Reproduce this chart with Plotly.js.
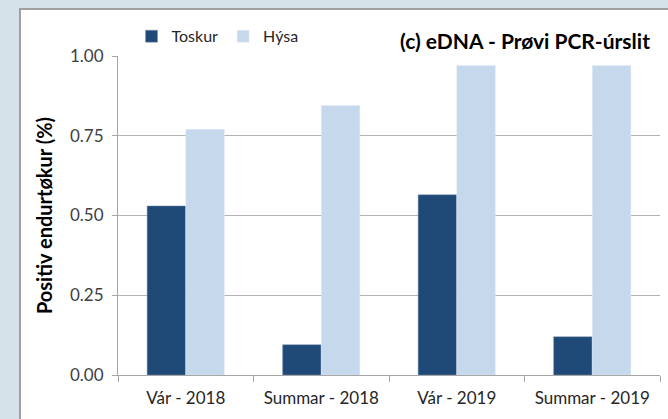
<!DOCTYPE html>
<html>
<head>
<meta charset="utf-8">
<script src="https://cdn.plot.ly/plotly-3.0.1.min.js"></script>
<style>html,body{margin:0;padding:0;background:#d4e1e9;}#chart{width:668px;height:419px;}</style>
</head>
<body>
<div id="chart"></div>
<script>
const categories = ["Vár - 2018", "Summar - 2018", "Vár - 2019", "Summar - 2019"];
const toskur = [0.53, 0.095, 0.565, 0.12];
const hysa = [0.77, 0.845, 0.97, 0.97];
const yTicks = [0, 0.25, 0.5, 0.75, 1.0];
const yTickLabels = ["0.00", "0.25", "0.50", "0.75", "1.00"];

const FONT = "Lato, 'Open Sans', sans-serif";
const traces = [
  {type: "bar", name: "Toskur", x: categories, y: toskur,
   marker: {color: "#1f4a78", line: {color: "#7f97b3", width: 0.5}}},
  {type: "bar", name: "Hýsa", x: categories, y: hysa,
   marker: {color: "#c6d8ec", line: {color: "#e4edf7", width: 0.5}}}
];

const layout = {
  width: 668, height: 419,
  margin: {l: 118, r: 8, t: 56, b: 44},
  paper_bgcolor: "#d4e1e9",
  plot_bgcolor: "#ffffff",
  font: {family: FONT, size: 16, color: "#404040"},
  barmode: "group",
  bargap: 0.43,
  bargroupgap: 0,
  showlegend: true,
  legend: {orientation: "h", x: 0.025, xanchor: "left", y: 1.115, yanchor: "top",
           font: {family: FONT, size: 16, color: "#262626"}, bgcolor: "rgba(0,0,0,0)",
           itemwidth: 30, traceorder: "normal"},
  title: {text: "<b>(c) eDNA - Prøvi PCR-úrslit</b>", x: 0.973, xanchor: "right",
          y: 0.9, yanchor: "middle", font: {family: FONT, size: 21, color: "#000000"}},
  xaxis: {
    type: "category", tickson: "boundaries", ticks: "outside", ticklen: 6,
    tickcolor: "#a6a6a6", showline: true, linecolor: "#a6a6a6", linewidth: 1,
    showgrid: false, tickfont: {family: FONT, size: 17, color: "#262626"},
    ticklabelstandoff: 8,
    fixedrange: true
  },
  yaxis: {
    range: [0, 1.0], tickvals: yTicks, ticktext: yTickLabels,
    ticks: "outside", ticklen: 5, tickcolor: "#a6a6a6",
    showline: true, linecolor: "#a6a6a6", linewidth: 1,
    showgrid: true, gridcolor: "#b3b3b3", gridwidth: 1, zeroline: false,
    tickfont: {family: FONT, size: 17, color: "#404040"},
    ticklabelstandoff: 5,
    title: {text: "<b>Positiv endurtøkur (%)</b>", standoff: 12,
            font: {family: FONT, size: 20, color: "#000000"}},
    fixedrange: true
  },
  shapes: [
    {type: "rect", xref: "paper", yref: "paper", layer: "below",
     x0: -0.1808, x1: 1.5, y0: -0.5, y1: 1.147,
     fillcolor: "#ffffff", line: {color: "#a0a0a0", width: 2}}
  ]
};

Plotly.newPlot("chart", traces, layout, {displayModeBar: false, staticPlot: true});
</script>
</body>
</html>
